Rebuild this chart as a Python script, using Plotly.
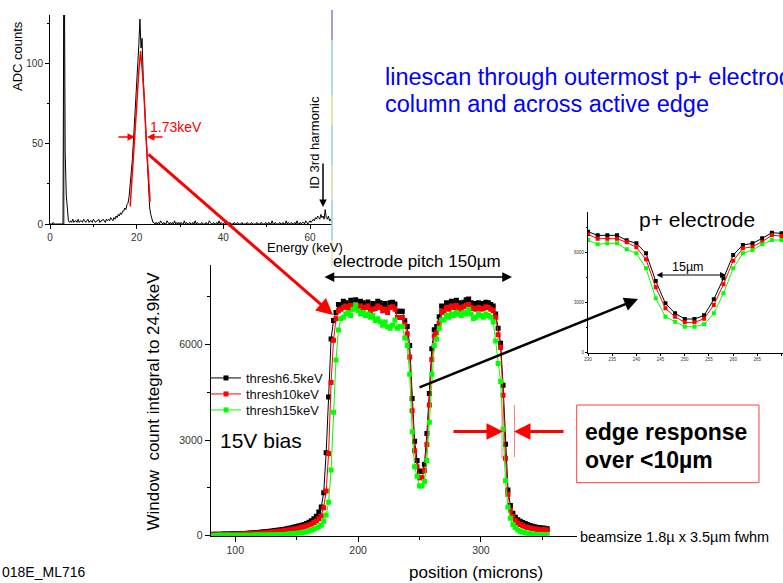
import plotly.graph_objects as go

W, H = 783, 583
def X(px): return px / W
def Y(py): return (H - py) / H

FONT = "Liberation Sans, Arial, sans-serif"

# ---------------- main linescan data (position in microns, step 2) ----------------
position = list(range(80, 356, 2))
thresh6_5 = [
    40, 42, 45, 45, 48, 50, 52, 55, 55, 58,
    60, 62, 65, 70, 72, 78, 82, 88, 95, 100,
    108, 115, 125, 135, 140, 150, 160, 170, 180, 195,
    205, 220, 235, 250, 270, 290, 310, 330, 355, 380,
    420, 470, 530, 610, 740, 900, 1350, 2600, 4350, 6170,
    6750, 7000, 7250, 7200, 7350, 7300, 7250, 7380, 7300, 7400,
    7280, 7350, 7300, 7250, 7330, 7200, 7280, 7250, 7350, 7300,
    7200, 7280, 7150, 7300, 7320, 7260, 7040, 7040, 7040, 6740,
    6560, 5960, 4300, 2960, 2360, 2020, 2020, 2240, 3200, 4460,
    5860, 6460, 6560, 6860, 7200, 7160, 7300, 7250, 7350, 7300,
    7380, 7300, 7250, 7320, 7400, 7420, 7300, 7280, 7250, 7300,
    7250, 7280, 7320, 7300, 7250, 7200, 6950, 6500, 6030, 4720,
    2870, 1430, 950, 700, 580, 500, 450, 410, 380, 350,
    320, 300, 280, 260, 250, 240, 230, 220,
]
thresh10 = [
    25, 26, 28, 30, 32, 33, 35, 37, 38, 40,
    42, 45, 48, 50, 54, 58, 62, 66, 70, 75,
    80, 86, 92, 100, 106, 113, 120, 130, 140, 150,
    160, 172, 185, 198, 212, 228, 245, 262, 282, 305,
    335, 370, 410, 460, 530, 620, 880, 1400, 2580, 4800,
    6130, 6800, 7050, 7100, 7150, 7200, 7100, 7220, 7150, 7250,
    7150, 7200, 7100, 7150, 7200, 7050, 7100, 7120, 7200, 7150,
    7050, 7100, 7000, 7150, 7180, 7100, 6840, 6840, 6840, 6620,
    6320, 5600, 3920, 2660, 2160, 1820, 1820, 2040, 2860, 4100,
    5520, 6260, 6360, 6660, 7040, 7000, 7150, 7100, 7200, 7150,
    7220, 7150, 7100, 7180, 7220, 7250, 7150, 7120, 7100, 7150,
    7100, 7120, 7180, 7150, 7100, 7050, 6850, 6300, 5900, 4400,
    2430, 1300, 800, 600, 480, 400, 350, 310, 280, 260,
    240, 225, 210, 200, 195, 190, 185, 180,
]
thresh15 = [
    10, 10, 10, 11, 11, 12, 12, 12, 13, 13,
    14, 14, 15, 15, 16, 17, 18, 18, 19, 20,
    21, 22, 23, 24, 26, 28, 30, 32, 34, 37,
    40, 45, 50, 58, 65, 75, 85, 95, 110, 125,
    145, 170, 200, 240, 280, 330, 450, 650, 1050, 2060,
    3870, 5510, 6450, 6800, 6850, 6950, 7000, 6900, 7100, 7230,
    7050, 6950, 7000, 6900, 6950, 6850, 6900, 6750, 6800, 6710,
    6600, 6700, 6550, 6500, 6600, 6760, 6500, 6560, 6560, 6200,
    5960, 5060, 3260, 2160, 1860, 1560, 1560, 1700, 2360, 3560,
    5060, 5960, 6160, 6500, 6760, 6760, 6900, 6850, 6950, 6900,
    7000, 6950, 6900, 7000, 6950, 7100, 6950, 6800, 6850, 6950,
    6900, 6850, 6950, 6900, 6850, 6700, 6100, 5400, 4830, 3340,
    1720, 900, 550, 350, 250, 180, 140, 110, 90, 70,
    60, 50, 40, 30, 25, 20, 18, 15,
]
series_names = ["thresh6.5keV", "thresh10keV", "thresh15keV"]
series_colors = ["#000000", "#ff0000", "#00ff00"]
legend_rows_px = [378, 394, 410]

# ---------------- spectrum inset data (0.25 keV bins, 0 .. 65 keV) ----------------
adc_counts = [
    0, 0, 0, 1, 0, 0, 0, 0, 0, 0, 0, 0, 0, 200, 45, 18, 6, 2, 1, 2,
    1, 3, 1, 2, 2, 1, 3, 1, 2, 2, 1, 3, 2, 1, 2, 3, 1, 2, 2, 1,
    3, 2, 1, 2, 2, 3, 1, 2, 2, 3, 2, 1, 3, 2, 3, 2, 4, 3, 2, 4,
    3, 5, 4, 6, 5, 7, 6, 8, 8, 10, 9, 12, 13, 17, 24, 32, 40, 52, 66, 80,
    92, 100, 112, 128, 110, 116, 92, 78, 60, 45, 30, 18, 10, 6, 3, 1, 1, 0, 1, 0,
    1, 0, 2, 1, 0, 1, 0, 0, 2, 1, 0, 1, 0, 1, 0, 2, 0, 1, 0, 1,
    0, 1, 0, 0, 2, 0, 1, 0, 0, 1, 0, 0, 1, 0, 2, 0, 1, 0, 0, 0,
    1, 0, 0, 0, 1, 0, 0, 2, 1, 0, 0, 1, 0, 0, 1, 0, 2, 0, 1, 0,
    0, 1, 0, 2, 0, 0, 1, 0, 0, 0, 1, 0, 0, 1, 0, 0, 0, 1, 0, 0,
    0, 0, 1, 0, 0, 0, 1, 0, 0, 0, 0, 1, 0, 0, 0, 1, 0, 0, 0, 1,
    0, 0, 1, 0, 0, 2, 0, 0, 1, 0, 0, 0, 1, 0, 0, 1, 0, 0, 2, 0,
    1, 0, 0, 1, 0, 0, 1, 0, 2, 0, 0, 1, 0, 1, 1, 0, 2, 1, 0, 1,
    2, 1, 2, 3, 2, 4, 3, 5, 4, 3, 6, 4, 5, 3, 9, 4, 3, 5, 2, 3,
    1,
]
energy_bin = 0.25
energy = [round(i * energy_bin, 2) for i in range(len(adc_counts))]
fit_energy = [18.5, 19.0, 19.5, 20.0, 20.5, 20.9, 21.3, 21.75, 22.25, 22.75, 23.1]
fit_counts = [11, 30, 52, 74, 96, 108, 96, 78, 50, 28, 14]
marker_line_energy = [3.2, 3.2]
marker_line_counts = [0, 131]

# ---------------- zoomed p+ electrode inset: subset of the main data ----------------
zoom_lo, zoom_hi = 230, 270
zidx = [i for i, p in enumerate(position) if zoom_lo <= p <= zoom_hi]

fig = go.Figure()

all_series = [thresh6_5, thresh10, thresh15]
legend_ids = ["legend", "legend2", "legend3"]
for name, col, vals, lg in zip(series_names, series_colors, all_series, legend_ids):
    fig.add_trace(go.Scatter(
        x=position, y=vals, name=name, mode="lines+markers",
        line=dict(color=col, width=1),
        marker=dict(symbol="square", size=5, color=col),
        xaxis="x", yaxis="y", showlegend=True, legend=lg,
    ))

for name, col, vals in zip(series_names, series_colors, all_series):
    fig.add_trace(go.Scatter(
        x=[position[i] for i in zidx], y=[vals[i] for i in zidx],
        mode="lines+markers", line=dict(color=col, width=1),
        marker=dict(symbol="square", size=4, color=col),
        xaxis="x3", yaxis="y3", showlegend=False,
    ))

fig.add_trace(go.Scatter(x=marker_line_energy, y=marker_line_counts, mode="lines",
                         line=dict(color="#808080", width=1.5),
                         xaxis="x2", yaxis="y2", showlegend=False))
fig.add_trace(go.Scatter(x=energy, y=adc_counts, mode="lines",
                         line=dict(color="#000000", width=1),
                         xaxis="x2", yaxis="y2", showlegend=False))
fig.add_trace(go.Scatter(x=fit_energy, y=fit_counts, mode="lines",
                         line=dict(color="#ff0000", width=1.5),
                         xaxis="x2", yaxis="y2", showlegend=False))

axis_common = dict(showline=True, linecolor="#000000", linewidth=1, showgrid=False,
                   zeroline=False, ticks="outside", tickcolor="#000000",
                   tickfont=dict(family=FONT, color="#222222"))

def legend_box(py):
    return dict(x=X(206), y=Y(py), xanchor="left", yanchor="middle",
                bgcolor="rgba(0,0,0,0)", font=dict(family=FONT, size=13, color="#111"),
                itemwidth=30, borderwidth=0)

fig.update_layout(
    autosize=True, margin=dict(l=0, r=0, t=0, b=0, autoexpand=False),
    paper_bgcolor="white", plot_bgcolor="rgba(0,0,0,0)",
    font=dict(family=FONT, color="#000000"),
    xaxis=dict(axis_common, domain=[X(210.7), X(577)], range=[80, 378.2], anchor="y",
               tickvals=[100, 200, 300], ticklen=5, tickfont=dict(family=FONT, size=10.5, color="#333"),
               minor=dict(dtick=50, tick0=0, ticklen=3, ticks="outside", tickcolor="#000")),
    yaxis=dict(axis_common, domain=[Y(535.7), Y(265)], range=[0, 8486], anchor="x",
               tickvals=[0, 3000, 6000], ticklen=5, tickfont=dict(family=FONT, size=10.5, color="#333"),
               minor=dict(dtick=1500, tick0=0, ticklen=3, ticks="outside", tickcolor="#000")),
    xaxis2=dict(axis_common, domain=[X(50), X(331.7)], range=[0, 65], anchor="y2",
                tickvals=[0, 20, 40, 60], ticklen=4, tickfont=dict(family=FONT, size=10, color="#333"),
                minor=dict(dtick=10, tick0=0, ticklen=2, ticks="outside", tickcolor="#000")),
    yaxis2=dict(axis_common, domain=[Y(224), Y(15)], range=[0, 130.6], anchor="x2",
                tickvals=[0, 50, 100], ticklen=4, tickfont=dict(family=FONT, size=10, color="#333"),
                minor=dict(dtick=25, tick0=0, ticklen=2, ticks="outside", tickcolor="#000")),
    xaxis3=dict(axis_common, domain=[X(588), 1.0], range=[230, 270.3], anchor="y3",
                dtick=5, tick0=230, ticklen=2, tickfont=dict(family=FONT, size=4.5, color="#333")),
    yaxis3=dict(axis_common, domain=[Y(352.7), Y(211.7)], range=[0, 8460], anchor="x3",
                tickvals=[0, 3000, 6000], ticklen=2, tickfont=dict(family=FONT, size=4.5, color="#333"),
                minor=dict(dtick=1500, tick0=0, ticklen=1.5, ticks="outside", tickcolor="#000")),
    legend=legend_box(legend_rows_px[0]),
    legend2=legend_box(legend_rows_px[1]),
    legend3=legend_box(legend_rows_px[2]),
)

ann = []
def text(t, px, py, size, color="#000", xanchor="center", angle=0, bold=False):
    if bold:
        t = "<b>" + t + "</b>"
    ann.append(dict(text=t, x=X(px), y=Y(py), xref="paper", yref="paper",
                    xanchor=xanchor, yanchor="middle", showarrow=False, textangle=angle,
                    font=dict(family=FONT, size=size, color=color)))

def arrow(tail, head, color, width, both=False, size=1.0):
    ann.append(dict(text="", x=X(head[0]), y=Y(head[1]), xref="paper", yref="paper",
                    ax=tail[0] - head[0], ay=tail[1] - head[1], axref="pixel", ayref="pixel",
                    showarrow=True, arrowhead=2, arrowsize=size, arrowwidth=width,
                    arrowcolor=color, arrowside="end+start" if both else "end"))

text("linescan through outermost p+ electrode", 383, 77, 23.5, "#0000ff", "left")
text("column and across active edge", 383, 103.5, 23.5, "#0000ff", "left")
text("electrode pitch 150µm", 416.7, 262, 17)
text("15V bias", 261, 440, 21)
text("p+ electrode", 697, 219, 21)
text("15µm", 688, 267, 12.5)
text("edge response", 582.7, 432, 23, bold=True, xanchor="left")
text("over &lt;10µm", 582.7, 460, 23, bold=True, xanchor="left")
text("beamsize 1.8µ x 3.5µm fwhm", 577.5, 537, 14.5, xanchor="left")
text("position (microns)", 476.5, 572, 17)
text("Window  count integral to 24.9keV", 153, 401.5, 17, angle=-90)
text("ADC counts", 17, 56, 13, angle=-90)
text("Energy (keV)", 304.5, 247.5, 13)
text("ID 3rd harmonic", 315, 143, 13, angle=-90)
text("1.73keV", 176, 127, 14, "#ff0000")
text("018E_ML716", 88, 572, 14, xanchor="right")

arrow((147, 153), (333, 315), "#ff0000", 3, size=1.1)
arrow((418, 388), (638, 299), "#000000", 2.5, size=1.1)
arrow((323, 277), (512, 277), "#000000", 1.5, both=True, size=1.3)
arrow((655, 275), (726, 275), "#000000", 1, both=True, size=1.2)
arrow((452, 431.5), (503, 431.5), "#ff0000", 3, size=1.1)
arrow((565, 431.5), (514, 431.5), "#ff0000", 3, size=1.1)
arrow((117, 137), (135, 137), "#ff0000", 1.5, size=1.0)
arrow((164, 137), (147, 137), "#ff0000", 1.5, size=1.0)
arrow((323, 162), (323, 207), "#000000", 1.5, size=1.0)
fig.update_layout(annotations=ann)

shapes = []
def seg(x0, y0, x1, y1, color, width):
    shapes.append(dict(type="line", xref="paper", yref="paper", x0=X(x0), y0=Y(y0),
                       x1=X(x1), y1=Y(y1), line=dict(color=color, width=width)))

seg(502, 406.5, 502, 458.5, "#ff8080", 1)
seg(514.5, 405, 514.5, 457, "#ff8080", 1)
# colored vertical artefact line at the right of the spectrum
for (a, b, c) in [(10, 40, "#8080c8"), (40, 95, "#90d0dc"), (95, 125, "#d8e090"),
                  (125, 165, "#90d0dc"), (165, 200, "#c8e0a0"), (200, 240, "#90d0dc"),
                  (240, 266, "#e8e0a0")]:
    seg(332, a, 332, b, c, 1.5)
shapes.append(dict(type="rect", xref="paper", yref="paper", x0=X(576.7), y0=Y(405),
                   x1=X(759), y1=Y(482.7), line=dict(color="#ff4040", width=1)))
fig.update_layout(shapes=shapes)

fig.write_html(
    "out.html",
    default_width="100vw", default_height="100vh",
    config={"displayModeBar": False, "staticPlot": True, "responsive": True},
    post_script=(
        "var d=document.getElementById('{plot_id}');"
        "d.style.position='fixed';d.style.left='0px';d.style.top='0px';"
        "document.documentElement.style.margin='0';document.documentElement.style.overflow='hidden';"
        "document.body.style.margin='0';document.body.style.padding='0';"
        "document.body.style.overflow='hidden';"
    ),
)
